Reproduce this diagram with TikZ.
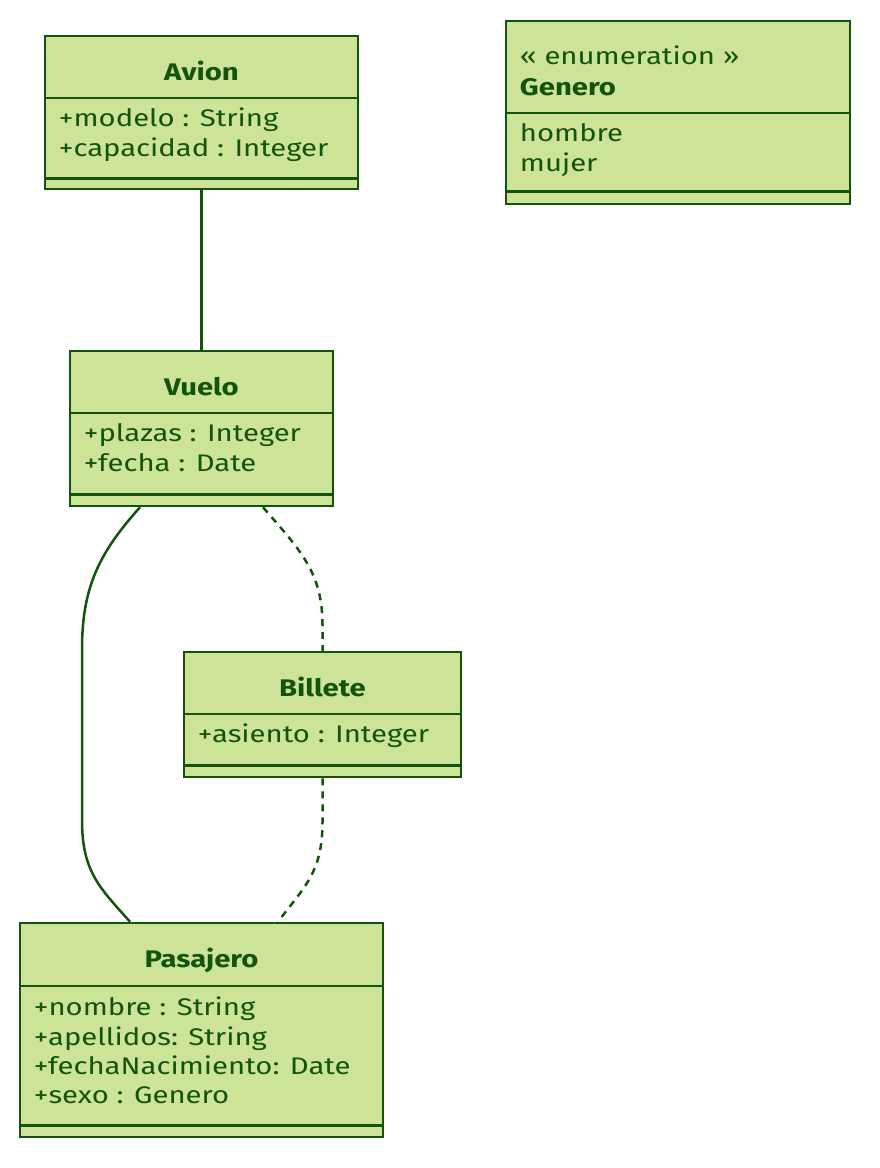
\documentclass[tikz,border=0pt]{standalone}
\usepackage{fontspec}
\setmainfont{Fira Sans}[FakeStretch=1.22]
\usetikzlibrary{positioning}
\definecolor{classfill}{HTML}{CDE498}
\definecolor{classline}{HTML}{13540C}
\newcommand\umlsize{\fontsize{24}{30}\selectfont}
\tikzset{
  classbox/.style={draw=classline, fill=classfill, line width=2.5pt, inner sep=0pt},
  divider/.style={draw=classline, line width=2.5pt},
  classname/.style={font=\umlsize\bfseries, text=classline, inner sep=0pt, anchor=base},
  member/.style={font=\umlsize, text=classline, inner sep=0pt, anchor=base west},
  assoc/.style={draw=classline, line width=2.5pt},
  dep/.style={assoc, dash pattern=on 7pt off 6pt},
}
\begin{document}
\begin{tikzpicture}[x=1pt, y=-1pt]
  \useasboundingbox (0,0) rectangle (880,1168);

  % classes
  \node[classbox, minimum width=313pt, minimum height=153pt] (avion) at (201.5,112.5) {};
  \node[classbox, minimum width=344pt, minimum height=183pt] (genero) at (678,112.5) {};
  \node[classbox, minimum width=263pt, minimum height=155pt] (vuelo) at (201.5,428.5) {};
  \node[classbox, minimum width=277pt, minimum height=125pt] (billete) at (322.5,714.5) {};
  \node[classbox, minimum width=363pt, minimum height=214pt] (pasajero) at (201.5,1030) {};

  % compartments
  \draw[divider] ([yshift=-63pt]avion.north west) -- ([yshift=-63pt]avion.north east);
  \draw[divider] ([yshift=12pt]avion.south west) -- ([yshift=12pt]avion.south east);
  \draw[divider] ([yshift=-93pt]genero.north west) -- ([yshift=-93pt]genero.north east);
  \draw[divider] ([yshift=14pt]genero.south west) -- ([yshift=14pt]genero.south east);
  \draw[divider] ([yshift=-63pt]vuelo.north west) -- ([yshift=-63pt]vuelo.north east);
  \draw[divider] ([yshift=13pt]vuelo.south west) -- ([yshift=13pt]vuelo.south east);
  \draw[divider] ([yshift=-63pt]billete.north west) -- ([yshift=-63pt]billete.north east);
  \draw[divider] ([yshift=13pt]billete.south west) -- ([yshift=13pt]billete.south east);
  \draw[divider] ([yshift=-64pt]pasajero.north west) -- ([yshift=-64pt]pasajero.north east);
  \draw[divider] ([yshift=13pt]pasajero.south west) -- ([yshift=13pt]pasajero.south east);

  % names
  \node[classname] (avion-name) at ([yshift=-45.5pt]avion.north) {Avion};
  \node[classname] (vuelo-name) at ([yshift=-45.5pt]vuelo.north) {Vuelo};
  \node[classname] (billete-name) at ([yshift=-45.5pt]billete.north) {Billete};
  \node[classname] (pasajero-name) at ([yshift=-45.5pt]pasajero.north) {Pasajero};
  \node[member] (genero-stereo) at ([xshift=15pt, yshift=-45pt]genero.north west) {« enumeration »};
  \node[member, font=\umlsize\bfseries] (genero-name) at ([xshift=15pt, yshift=-76pt]genero.north west) {Genero};

  % attributes
  \foreach \m [count=\i from 0] in {{+modelo : String}, {+capacidad : Integer}}
    \node[member] (avion-m\i) at ([xshift=15pt, yshift=-92pt-\i*29.5pt]avion.north west) {\m};
  \foreach \m [count=\i from 0] in {hombre, mujer}
    \node[member] (genero-m\i) at ([xshift=15pt, yshift=-122pt-\i*29.5pt]genero.north west) {\m};
  \foreach \m [count=\i from 0] in {{+plazas : Integer}, {+fecha : Date}}
    \node[member] (vuelo-m\i) at ([xshift=15pt, yshift=-92pt-\i*29.5pt]vuelo.north west) {\m};
  \node[member] (billete-m0) at ([xshift=15pt, yshift=-92pt]billete.north west) {+asiento : Integer};
  \foreach \m [count=\i from 0] in {{+nombre : String}, {+apellidos: String}, {+fechaNacimiento: Date}, {+sexo : Genero}}
    \node[member] (pasajero-m\i) at ([xshift=15pt, yshift=-94pt-\i*29.3pt]pasajero.north west) {\m};

  % relations
  \draw[assoc] (avion.south) -- (vuelo.north);
  \draw[assoc] ([xshift=-61.5pt]vuelo.south) .. controls (97,555) and (82,590) .. (82,650)
    -- (82,820) .. controls (82,872) and (100,888) .. ([xshift=-71.5pt]pasajero.north);
  \draw[dep] ([xshift=61.5pt]vuelo.south) .. controls (300,550) and (322.5,572) .. (322.5,625)
    -- (billete.north);
  \draw[dep] (billete.south) -- (322.5,822) .. controls (322.5,872) and (305,886) .. ([xshift=76.5pt]pasajero.north);
\end{tikzpicture}
\end{document}
